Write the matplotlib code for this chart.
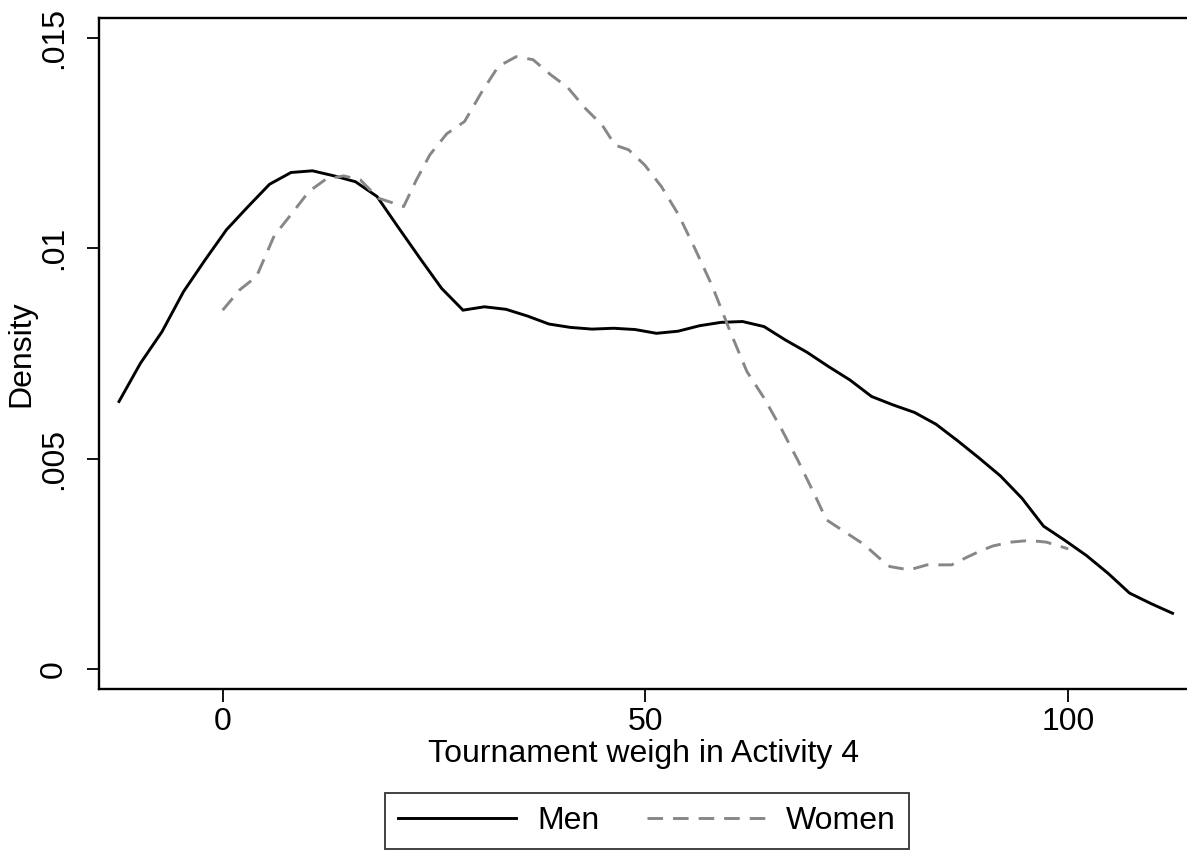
import matplotlib
matplotlib.use("Agg")
import matplotlib.pyplot as plt

plt.rcParams['font.family'] = ['Liberation Sans', 'DejaVu Sans']
plt.rcParams['lines.scale_dashes'] = False

# ---- data ----
men_x = [-12.26, -9.72, -7.17, -4.63, -2.09, 0.45, 3.00, 5.54, 8.08, 10.62,
         13.17, 15.71, 18.25, 20.79, 23.34, 25.88, 28.42, 30.96, 33.51, 36.05,
         38.59, 41.13, 43.68, 46.22, 48.76, 51.30, 53.85, 56.39, 58.93, 61.48,
         64.02, 66.56, 69.10, 71.65, 74.19, 76.73, 79.27, 81.82, 84.36, 86.90,
         89.44, 91.99, 94.53, 97.07, 99.61, 102.16, 104.70, 107.24, 109.78, 112.33]
men_y = [0.00636, 0.00727, 0.00802, 0.00897, 0.00972, 0.01044, 0.01099, 0.01152, 0.01180, 0.01184,
         0.01172, 0.01158, 0.01123, 0.01049, 0.00976, 0.00905, 0.00853, 0.00861, 0.00855, 0.00839,
         0.00820, 0.00812, 0.00808, 0.00810, 0.00807, 0.00798, 0.00803, 0.00816, 0.00824, 0.00826,
         0.00814, 0.00782, 0.00753, 0.00719, 0.00687, 0.00648, 0.00628, 0.00610, 0.00582, 0.00543,
         0.00502, 0.00459, 0.00406, 0.00340, 0.00306, 0.00270, 0.00228, 0.00181, 0.00156, 0.00133]

women_x = [0.0, 2.0, 4.0, 6.1, 8.2, 10.2, 12.2, 14.3, 16.3, 18.4,
           20.4, 21.4, 22.9, 24.5, 26.5, 28.6, 30.6, 32.6, 34.7, 36.7,
           38.8, 40.8, 42.9, 44.9, 46.4, 48.0, 49.9, 51.9, 53.9, 55.9,
           57.9, 60.0, 62.0, 64.0, 66.1, 68.0, 70.0, 71.4, 73.6, 75.8,
           77.6, 78.9, 81.2, 83.3, 86.2, 88.0, 89.6, 91.1, 93.2, 95.4,
           97.4, 100.0]
women_y = [0.00853, 0.00901, 0.00933, 0.01030, 0.01083, 0.01135, 0.01164, 0.01172, 0.01162, 0.01119,
           0.01106, 0.01099, 0.01162, 0.01222, 0.01272, 0.01301, 0.01370, 0.01432, 0.01455, 0.01448,
           0.01412, 0.01382, 0.01332, 0.01292, 0.01245, 0.01234, 0.01198, 0.01146, 0.01080, 0.00997,
           0.00910, 0.00803, 0.00707, 0.00645, 0.00570, 0.00497, 0.00415, 0.00355, 0.00326, 0.00297,
           0.00265, 0.00244, 0.00236, 0.00248, 0.00248, 0.00266, 0.00281, 0.00293, 0.00302, 0.00306,
           0.00302, 0.00286]

x_ticks = [0, 50, 100]
x_tick_labels = ["0", "50", "100"]
y_ticks = [0, 0.005, 0.01, 0.015]
y_tick_labels = ["0", ".005", ".01", ".015"]
series_names = ["Men", "Women"]
x_title = "Tournament weigh in Activity 4"
y_title = "Density"

FS = 23

# ---- figure ----
fig = plt.figure(figsize=(11.87, 8.5), dpi=100)
ax = fig.add_axes([0.0838, 0.1891, 1.0 - 0.0838, 0.9785 - 0.1891])

ax.plot(men_x, men_y, color='black', lw=2.1, solid_joinstyle='miter', label=series_names[0])
ax.plot(women_x, women_y, color='#878787', lw=2.1, dashes=(11.2, 7.2),
        dash_capstyle='butt', label=series_names[1])

ax.set_xlim(-14.57, 114.04)
ax.set_ylim(-0.000475, 0.015463)

ax.set_xticks(x_ticks)
ax.set_xticklabels(x_tick_labels)
ax.set_yticks(y_ticks)
ax.set_yticklabels(y_tick_labels, rotation=90, va='center')

ax.tick_params(axis='both', direction='out', length=9, width=1.3, labelsize=FS, colors='black')
ax.tick_params(axis='x', pad=4)
ax.tick_params(axis='y', pad=13)

for s in ['left', 'bottom', 'top']:
    ax.spines[s].set_linewidth(1.7)
ax.spines['right'].set_visible(False)

ax.set_xlabel(x_title, fontsize=FS, labelpad=1)
ax.set_ylabel(y_title, fontsize=FS, labelpad=2)

leg = fig.legend(loc='center', bbox_to_anchor=(647 / 1187, 1 - 821 / 850), ncol=2,
                 fontsize=FS, frameon=True, fancybox=False, handlelength=3.7,
                 handletextpad=0.65, columnspacing=1.5, borderpad=0.4)
leg.get_frame().set_edgecolor('black')
leg.get_frame().set_linewidth(1.3)

fig.savefig("out.png", dpi=100)
